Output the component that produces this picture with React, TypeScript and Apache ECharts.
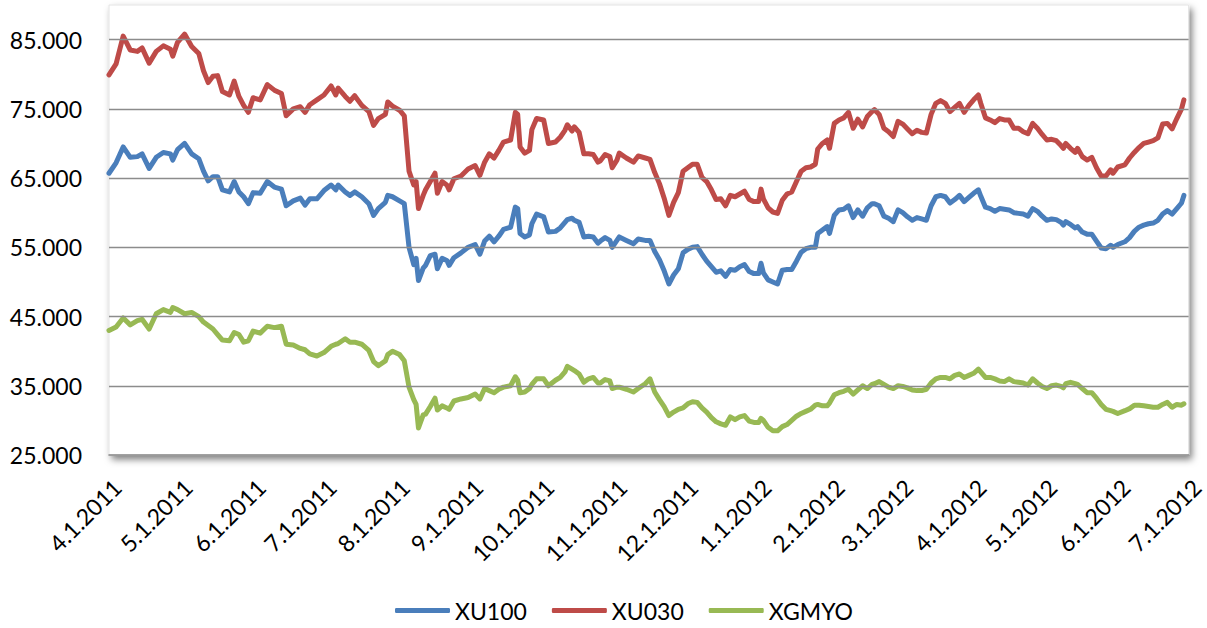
import React, { useEffect, useRef } from "react";
import * as echarts from "echarts";

// Calendar span of the x axis (Excel date axis)
const START_DATE = [2011, 4, 1]; // y, m, d
const END_DATE = [2012, 7, 1];

// Sample positions: days since 4.1.2011
const DAYS = [
  0, 3, 6, 9, 12, 14, 17, 20, 23, 26, 27, 29, 32, 35, 38, 40, 42, 44, 46, 48, 51, 53, 55, 57, 59, 61, 64, 67, 70, 73, 75,
  78, 81, 83, 85, 88, 91, 94, 96, 97, 100, 102, 104, 107, 110, 112, 114, 117, 118, 120, 123, 125, 127, 129, 130, 131, 133, 134, 136, 138, 139, 141, 143, 144, 146,
  149, 152, 155, 157, 159, 161, 163, 165, 167, 170, 172, 173, 174, 176, 178, 179, 181, 184, 186, 189, 191, 193, 194, 196, 197, 199, 201, 203, 205, 207, 208, 210, 212, 213, 215, 216, 219, 222, 224,
  227, 229, 231, 233, 235, 237, 239, 241, 243, 245, 247, 249, 251, 253, 255, 257, 259, 261, 263, 265, 267, 269, 271, 273, 275, 276, 277, 279, 281, 283, 285, 287, 289, 291, 293, 295, 297, 299,
  300, 302, 304, 305, 307, 309, 311, 313, 315, 317, 319, 321, 323, 324, 326, 328, 330, 332, 334, 336, 338, 340, 342, 344, 346, 348, 350, 352, 354, 356, 358, 360, 362, 364, 366, 368, 369, 371, 373,
  375, 377, 379, 381, 383, 385, 387, 389, 391, 393, 395, 397, 399, 401, 403, 404, 405, 407, 409, 410, 412, 414, 416, 418, 420, 422, 424, 425, 427, 430, 432, 434, 436, 438, 440, 442, 444, 446, 448, 450, 452, 454, 455,
];

// Index values in thousands (axis shows 85.000 etc.)
const XU100 = [
  65.7, 67.2, 69.5, 68.0, 68.1, 68.5, 66.4, 68.0, 68.7, 68.5, 67.6, 69.1, 70.0, 68.5, 67.8, 66.0, 64.6, 65.2, 65.2, 63.3, 63.0, 64.5, 63.0, 62.3, 61.3, 62.9, 62.8, 64.5, 63.7, 63.4, 61.0,
  61.7, 62.1, 61.1, 62.0, 62.0, 63.2, 64.0, 63.3, 64.0, 63.0, 62.5, 63.0, 62.3, 61.3, 59.6, 60.6, 61.5, 62.5, 62.3, 61.7, 61.3, 55.0, 52.5, 53.4, 50.2, 52.0, 52.4, 53.8, 54.0, 51.9, 53.4, 53.1, 52.4, 53.5,
  54.2, 55.0, 55.4, 54.0, 55.9, 56.6, 55.8, 56.6, 57.6, 57.9, 60.8, 60.6, 57.0, 56.5, 56.8, 58.4, 59.8, 59.4, 57.2, 57.3, 57.8, 58.6, 59.0, 59.2, 58.9, 58.6, 56.5, 56.6, 56.5, 55.6, 55.9, 56.4, 56.0, 55.0, 56.0, 56.5, 56.0, 55.5, 56.2,
  56.0, 56.0, 54.4, 53.2, 51.6, 49.7, 51.0, 51.9, 54.2, 54.7, 55.0, 55.1, 54.0, 53.0, 52.2, 51.4, 51.6, 50.8, 51.8, 51.7, 52.2, 52.5, 51.5, 51.2, 51.2, 52.7, 51.3, 50.3, 50.0, 49.7, 51.7, 51.8, 51.8, 53.0, 54.3, 54.8, 55.0, 55.0,
  57.0, 57.5, 58.0, 57.0, 59.6, 60.4, 60.5, 61.0, 59.3, 60.4, 59.5, 60.7, 61.3, 61.3, 61.0, 59.5, 59.2, 58.7, 60.4, 60.0, 59.4, 58.9, 59.3, 59.1, 58.9, 61.0, 62.3, 62.5, 62.3, 61.4, 61.9, 62.5, 61.6, 62.2, 62.8, 63.3, 62.4, 60.8, 60.6,
  60.2, 60.6, 60.5, 60.4, 60.0, 59.9, 59.8, 59.5, 60.6, 60.2, 59.5, 58.9, 59.1, 59.0, 58.6, 58.2, 58.7, 58.3, 57.8, 58.0, 57.2, 56.9, 56.9, 55.9, 54.9, 54.8, 55.3, 55.0, 55.4, 55.8, 56.4, 57.3, 57.9, 58.2, 58.4, 58.5, 58.9, 59.8, 60.3, 59.8, 60.6, 61.4, 62.5,
];

const XU030 = [
  79.9, 81.5, 85.5, 83.5, 83.3, 83.8, 81.6, 83.3, 84.1, 83.6, 82.6, 84.6, 85.8, 84.0, 83.0, 80.5, 78.8, 79.7, 79.8, 77.5, 77.0, 79.0, 76.8, 75.5, 74.5, 76.6, 76.3, 78.5, 77.7, 77.2, 74.0,
  75.0, 75.3, 74.5, 75.6, 76.3, 77.0, 78.3, 77.0, 78.0, 76.8, 76.1, 76.9, 75.5, 74.6, 72.6, 73.6, 74.2, 76.0, 75.4, 74.8, 74.0, 66.0, 64.0, 64.5, 60.6, 62.5, 63.3, 64.5, 65.7, 62.8, 64.5, 64.0, 63.3, 64.9,
  65.3, 66.3, 66.8, 65.4, 67.3, 68.5, 67.9, 69.0, 70.2, 70.5, 74.5, 74.2, 69.5, 68.6, 69.0, 72.0, 73.6, 73.4, 70.0, 70.2, 70.9, 71.9, 72.7, 71.8, 72.4, 71.6, 68.5, 68.5, 68.4, 67.3, 67.5, 68.4, 68.1, 66.5, 67.6, 68.6, 67.9, 67.3, 68.2,
  67.9, 67.7, 65.8, 64.2, 62.1, 59.6, 61.5, 62.9, 66.0, 66.5, 67.0, 67.0, 65.1, 64.5, 63.3, 61.9, 62.0, 61.0, 62.5, 62.3, 62.7, 63.1, 61.9, 61.6, 61.6, 63.4, 62.0, 60.7, 60.1, 59.9, 61.8, 62.7, 63.0, 64.5, 66.0, 66.5, 66.6, 67.0,
  69.2, 70.0, 70.5, 69.3, 72.9, 73.4, 73.7, 74.5, 72.2, 73.5, 72.4, 73.9, 74.6, 74.9, 74.2, 72.2, 71.7, 71.0, 73.2, 72.8, 72.1, 71.4, 71.9, 71.6, 71.5, 74.2, 75.8, 76.2, 75.8, 74.6, 75.2, 75.8, 74.5, 75.5, 76.3, 77.0, 75.8, 73.7, 73.4,
  73.0, 73.6, 73.4, 73.4, 72.2, 72.2, 71.7, 71.4, 72.9, 72.2, 71.3, 70.5, 70.6, 70.4, 69.7, 69.3, 70.0, 69.3, 68.7, 69.3, 68.1, 67.6, 68.0, 66.5, 65.3, 65.3, 66.2, 65.7, 66.6, 66.9, 67.9, 68.7, 69.4, 70.0, 70.2, 70.4, 70.8, 72.8, 72.9, 72.1, 73.6, 75.0, 76.3,
];

const XGMYO = [
  43.0, 43.5, 44.8, 43.8, 44.4, 44.6, 43.2, 45.4, 46.0, 45.6, 46.3, 46.0, 45.4, 45.6, 45.0, 44.2, 43.7, 43.2, 42.4, 41.6, 41.5, 42.7, 42.4, 41.3, 41.5, 42.9, 42.6, 43.6, 43.4, 43.6, 41.0,
  40.9, 40.4, 40.2, 39.6, 39.3, 39.8, 40.7, 41.0, 41.1, 41.8, 41.3, 41.3, 41.0, 40.1, 38.5, 37.9, 38.6, 39.5, 40.0, 39.5, 38.6, 34.8, 33.0, 32.3, 28.9, 30.8, 30.9, 32.0, 33.2, 31.5, 32.1, 31.8, 31.6, 32.8,
  33.1, 33.3, 33.8, 33.1, 34.6, 34.3, 34.0, 34.5, 34.8, 35.0, 36.3, 35.8, 34.0, 34.1, 34.6, 35.2, 36.0, 36.0, 35.0, 35.8, 36.2, 37.0, 37.8, 37.4, 37.2, 36.7, 35.5, 36.0, 36.2, 35.4, 35.4, 35.9, 35.7, 34.6, 34.8, 34.8, 34.5, 34.1, 34.6,
  35.3, 36.0, 34.1, 33.0, 32.0, 30.7, 31.2, 31.6, 31.8, 32.4, 32.7, 32.6, 31.8, 31.2, 30.4, 29.8, 29.5, 29.3, 30.5, 30.1, 30.5, 30.7, 29.9, 29.7, 29.7, 30.3, 30.0, 29.0, 28.5, 28.5, 29.1, 29.4, 30.0, 30.6, 31.0, 31.3, 31.6, 32.2,
  32.3, 32.1, 32.1, 32.5, 33.7, 34.0, 34.2, 34.5, 33.8, 34.4, 35.0, 34.6, 35.2, 35.3, 35.6, 35.2, 34.8, 34.6, 35.0, 34.9, 34.7, 34.4, 34.3, 34.3, 34.5, 35.4, 36.0, 36.2, 36.2, 36.0, 36.5, 36.7, 36.2, 36.5, 36.8, 37.4, 37.0, 36.2, 36.2,
  36.0, 35.7, 35.6, 36.0, 35.6, 35.5, 35.4, 35.1, 36.0, 35.4, 34.9, 34.6, 35.0, 35.1, 34.9, 34.7, 35.3, 35.5, 35.3, 35.2, 34.6, 34.0, 34.0, 33.2, 32.3, 31.6, 31.4, 31.3, 31.0, 31.4, 31.7, 32.2, 32.2, 32.1, 32.0, 31.9, 31.9, 32.3, 32.6, 31.9, 32.3, 32.2, 32.4,
];

const SERIES_NAMES = ["XU100", "XU030", "XGMYO"];
const SERIES_COLORS = ["#4A7EBB", "#BE4B48", "#98B954"];
const Y_GRID_VALUES = [35, 45, 55, 65, 75, 85];

function buildCategories(): string[] {
  const out: string[] = [];
  const d = new Date(START_DATE[0], START_DATE[1] - 1, START_DATE[2]);
  const end = new Date(END_DATE[0], END_DATE[1] - 1, END_DATE[2]);
  while (d.getTime() <= end.getTime()) {
    out.push(`${d.getMonth() + 1}.${d.getDate()}.${d.getFullYear()}`);
    d.setDate(d.getDate() + 1);
  }
  return out;
}

export default function App() {
  const ref = useRef<HTMLDivElement>(null);

  useEffect(() => {
    if (!ref.current) return;
    const chart = echarts.init(ref.current, null, { renderer: "svg" });
    const categories = buildCategories();
    const font = "Lato";
    const valueSets = [XU100, XU030, XGMYO];

    const lineSeries = SERIES_NAMES.map((name, si) => ({
      name,
      type: "line",
      z: 3,
      showSymbol: false,
      symbol: "none",
      color: SERIES_COLORS[si],
      lineStyle: { width: 5, color: SERIES_COLORS[si], cap: "round", join: "round" },
      data: DAYS.map((day, i) => [day, valueSets[si][i]]),
    }));

    chart.setOption({
      animation: false,
      backgroundColor: "#ffffff",
      textStyle: { fontFamily: font },
      grid: {
        left: 109,
        right: 12,
        top: 5,
        bottom: 173,
        show: true,
        backgroundColor: "#ffffff",
        borderColor: "#e4e4e4",
        borderWidth: 1,
        shadowColor: "rgba(0,0,0,0.5)",
        shadowBlur: 7,
        shadowOffsetX: 3,
        shadowOffsetY: 4,
      },
      legend: {
        data: SERIES_NAMES,
        bottom: 1,
        left: 390,
        icon: "roundRect",
        itemWidth: 55,
        itemHeight: 5,
        itemGap: 25,
        textStyle: { fontFamily: font, fontSize: 23, color: "#000" },
      },
      xAxis: {
        type: "category",
        data: categories,
        boundaryGap: false,
        axisLine: { show: true, lineStyle: { color: "#868686", width: 1.5 } },
        axisTick: { show: false },
        splitLine: { show: false },
        axisLabel: {
          interval: (_i: number, v: string) => v.split(".")[1] === "1",
          rotate: 45,
          margin: 20,
          verticalAlign: "top",
          fontFamily: font,
          fontSize: 23,
          color: "#000",
          hideOverlap: false,
        },
      },
      yAxis: {
        type: "value",
        min: 25,
        max: 90,
        interval: 5,
        axisLine: { show: false },
        axisTick: { show: false },
        splitLine: { show: false },
        axisLabel: {
          margin: 27,
          fontFamily: font,
          fontSize: 23,
          color: "#000",
          formatter: (v: number) => (Math.round(v) % 10 === 5 ? `${Math.round(v)}.000` : ""),
        },
      },
      series: [
        {
          name: "__grid",
          type: "line",
          z: 1,
          data: [],
          silent: true,
          markLine: {
            silent: true,
            symbol: ["none", "none"],
            label: { show: false },
            lineStyle: { color: "#8c8c8c", width: 1.3, type: "solid" },
            data: Y_GRID_VALUES.map((v) => ({ yAxis: v })),
          },
        },
        ...lineSeries,
      ],
    });

    return () => chart.dispose();
  }, []);

  return (
    <div
      ref={ref}
      style={{ position: "fixed", left: 0, top: 0, width: 1207, height: 628 }}
    />
  );
}
